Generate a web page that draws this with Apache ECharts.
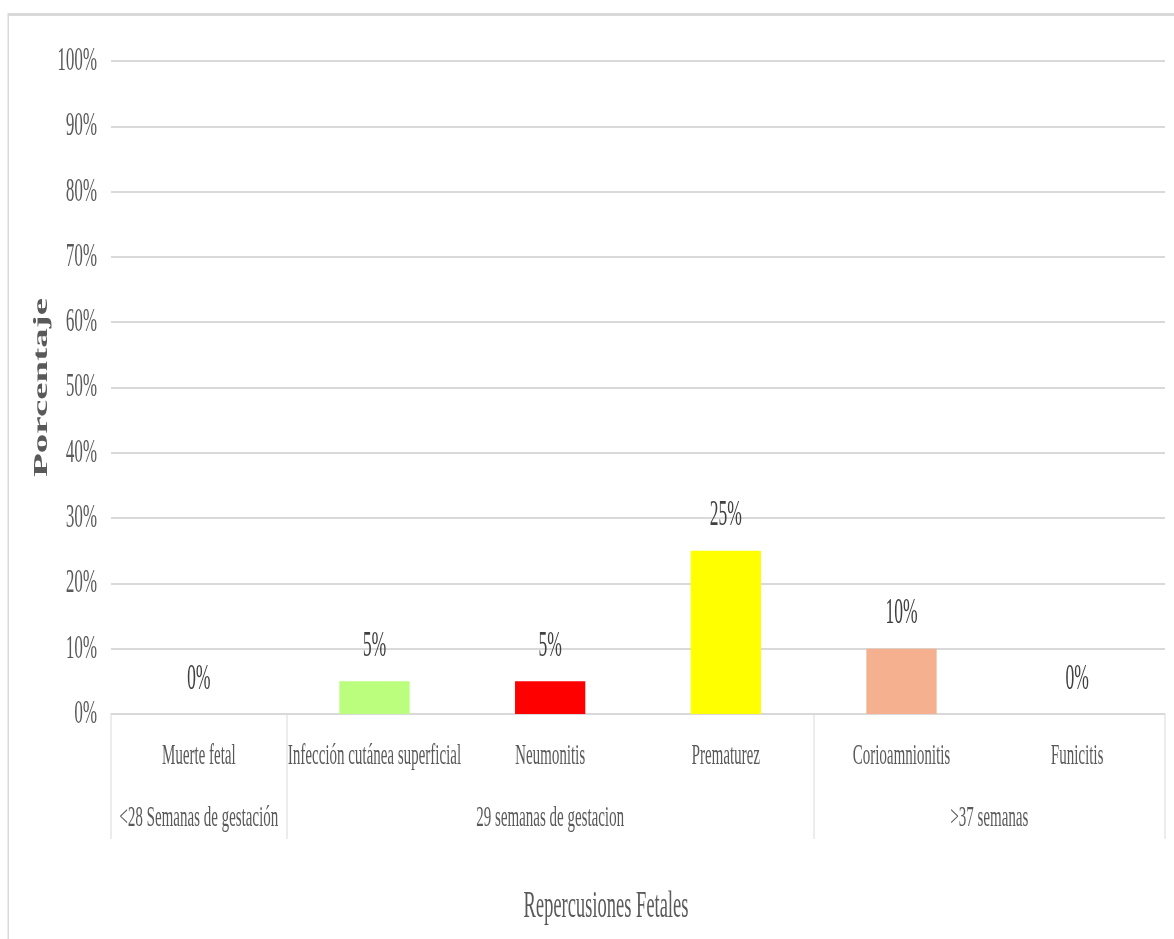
<!DOCTYPE html>
<html>
<head>
<meta charset="utf-8">
<script src="https://cdn.jsdelivr.net/npm/echarts@6/dist/echarts.min.js"></script>
<style>
  html, body { margin: 0; padding: 0; background: #ffffff; overflow: hidden; }
  /* The chart is laid out twice as wide and compressed horizontally,
     giving the narrow, condensed serif lettering of the figure. */
  #chart { width: 2348px; height: 939px; transform: scaleX(0.5); transform-origin: 0 0; }
</style>
</head>
<body>
<div id="chart"></div>
<script>
// Fetal repercussions by gestational age (share of cases)
const categories = ['Muerte fetal', 'Infección cutánea superficial', 'Neumonitis', 'Prematurez', 'Corioamnionitis', 'Funicitis'];
const values = [0, 0.05, 0.05, 0.25, 0.10, 0];
const barColors = ['#a6a6a6', '#bbfd7c', '#ff0000', '#ffff00', '#f4b08f', '#a6a6a6'];

// Gestational-age groups and how many categories each one spans
const groupNames = ['<28 Semanas de gestación', '29 semanas de gestacion', '>37 semanas'];
const groupSpans = [1, 3, 2];

// Percentage axis ticks
const yMin = 0, yMax = 1, yStep = 0.1;

const FONT = 'Liberation Serif';
const GRID_COLOR = '#d9d9d9';

// Group boundaries and label centres along a 0..N value scale
const groupEdges = [0];
groupSpans.forEach(s => groupEdges.push(groupEdges[groupEdges.length - 1] + s));
const groupCenters = groupSpans.map((s, i) => groupEdges[i] + s / 2);

const pct = v => Math.round(v * 100) + '%';

const chart = echarts.init(document.getElementById('chart'), null, { renderer: 'canvas' });

chart.setOption({
  backgroundColor: '#ffffff',
  animation: false,
  graphic: [{
    type: 'rect',
    left: 14, top: 12,
    shape: { width: 2400, height: 1000 },
    style: { fill: 'none', stroke: GRID_COLOR, lineWidth: 3 },
    z: -1,
    silent: true
  }],
  grid: { left: 222, right: 18, top: 61, bottom: 225, containLabel: false },
  xAxis: [
    {
      type: 'category',
      data: categories,
      position: 'bottom',
      axisLine: { show: true, lineStyle: { color: GRID_COLOR, width: 2 } },
      axisTick: { show: false },
      axisLabel: { interval: 0, margin: 27, color: '#595959', fontFamily: FONT, fontSize: 30 },
      name: 'Repercusiones Fetales',
      nameLocation: 'middle',
      nameGap: 175,
      nameTextStyle: { color: '#595959', fontFamily: FONT, fontSize: 37, padding: [0, 128, 0, 0] }
    },
    {
      type: 'value',
      min: groupEdges[0],
      max: groupEdges[groupEdges.length - 1],
      position: 'bottom',
      offset: 0,
      axisLine: { show: false },
      splitLine: { show: false },
      axisTick: { show: true, customValues: groupEdges, length: 125, lineStyle: { color: GRID_COLOR, width: 2 } },
      axisLabel: {
        customValues: groupCenters,
        margin: 89,
        color: '#595959', fontFamily: FONT, fontSize: 30,
        formatter: v => {
          const i = groupCenters.findIndex(c => Math.abs(c - v) < 1e-6);
          return i >= 0 ? groupNames[i] : '';
        }
      }
    }
  ],
  yAxis: {
    type: 'value',
    min: yMin, max: yMax, interval: yStep,
    axisLine: { show: false },
    axisTick: { show: false },
    splitLine: { show: true, lineStyle: { color: GRID_COLOR, width: 2 } },
    axisLabel: { formatter: pct, margin: 28, color: '#595959', fontFamily: FONT, fontSize: 34 },
    name: 'Porcentaje',
    nameLocation: 'middle',
    nameGap: 116,
    nameTextStyle: { color: '#595959', fontFamily: FONT, fontSize: 39, fontWeight: 'bold' }
  },
  series: [{
    type: 'bar',
    xAxisIndex: 0,
    barWidth: '40%',
    data: values.map((v, i) => ({ value: v, itemStyle: { color: barColors[i] } })),
    label: {
      show: true,
      position: 'top',
      distance: 17,
      formatter: p => pct(p.value),
      color: '#404040', fontFamily: FONT, fontSize: 35
    }
  }]
});
</script>
</body>
</html>
